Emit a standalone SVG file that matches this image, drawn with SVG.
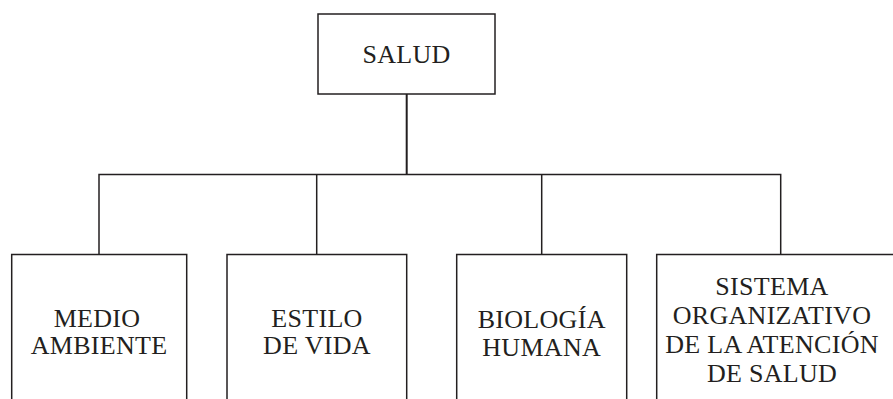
<svg xmlns="http://www.w3.org/2000/svg" width="893" height="399" viewBox="0 0 893 399">
<style>
.box{fill:#fff;stroke:#231f20;stroke-width:1.5}
.ln{fill:none;stroke:#231f20;stroke-width:1.5}
text{font-family:"Liberation Serif","Times New Roman",serif;font-size:26px;fill:#231f20;text-anchor:middle;letter-spacing:0.3px}
</style>
<rect width="893" height="399" fill="#fff"/>
<g id="connectors">
<path class="ln" d="M406.7 94V174.5" style="stroke-width:2"/>
<path class="ln" d="M99 254V174.5H780.7V254"/>
<path class="ln" d="M316.7 174.5V254M541.7 174.5V254"/>
</g>
<g id="salud">
<rect class="box" x="318" y="14" width="177" height="80"/>
<text x="406.5" y="63">SALUD</text>
</g>
<g id="medio-ambiente">
<rect class="box" x="11.7" y="254.5" width="175" height="160"/>
<text x="97" y="327">MEDIO</text>
<text x="99" y="354">AMBIENTE</text>
</g>
<g id="estilo-de-vida">
<rect class="box" x="227" y="254.5" width="179.7" height="160"/>
<text x="317" y="327">ESTILO</text>
<text x="317" y="354">DE VIDA</text>
</g>
<g id="biologia-humana">
<rect class="box" x="456.7" y="254.5" width="170" height="160"/>
<text x="541.7" y="328">BIOLOGÍA</text>
<text x="541.7" y="356">HUMANA</text>
</g>
<g id="sistema">
<rect class="box" x="656.7" y="254.5" width="260" height="160"/>
<text x="772" y="295">SISTEMA</text>
<text x="772" y="323.5">ORGANIZATIVO</text>
<text x="772" y="352.5">DE LA ATENCIÓN</text>
<text x="772" y="381.5">DE SALUD</text>
</g>
</svg>
